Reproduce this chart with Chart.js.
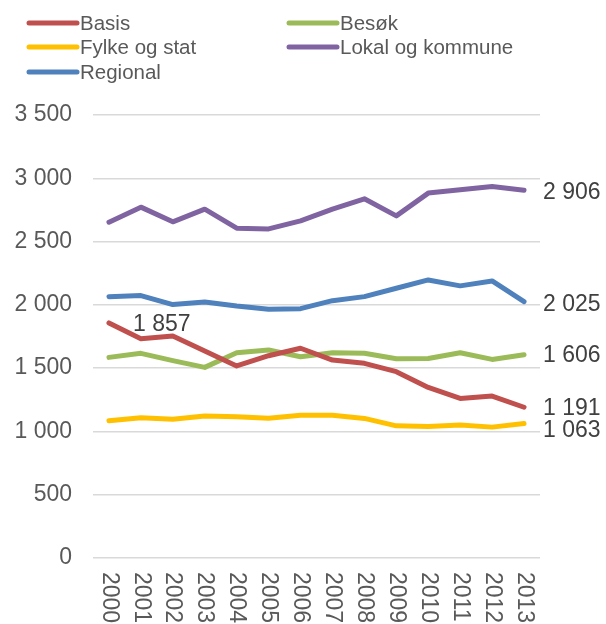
<!DOCTYPE html>
<html>
<head>
<meta charset="utf-8">
<script src="https://cdn.jsdelivr.net/npm/chart.js@4/dist/chart.umd.min.js"></script>
<style>
  html, body { margin: 0; padding: 0; background: #fff; }
  #wrap { width: 606px; height: 624px; }
</style>
</head>
<body>
<div id="wrap"><canvas id="chart" width="606" height="624"></canvas></div>
<script>
// Data
const years = ['2000', '2001', '2002', '2003', '2004', '2005', '2006', '2007', '2008', '2009', '2010', '2011', '2012', '2013'];
const basis = [1857, 1733, 1754, 1635, 1517, 1598, 1657, 1564, 1538, 1472, 1348, 1261, 1279, 1191];
const besok = [1585, 1617, 1559, 1506, 1622, 1643, 1590, 1622, 1617, 1574, 1576, 1622, 1569, 1606];
const fylke = [1084, 1108, 1097, 1121, 1116, 1105, 1127, 1127, 1103, 1044, 1039, 1050, 1034, 1063];
const lokal = [2653, 2772, 2656, 2756, 2606, 2600, 2664, 2756, 2838, 2703, 2883, 2909, 2935, 2906];
const regional = [2065, 2073, 2002, 2023, 1991, 1965, 1970, 2033, 2065, 2131, 2197, 2150, 2189, 2025];
const seriesNames = ['Basis', 'Besøk', 'Fylke og stat', 'Lokal og kommune', 'Regional'];
const seriesColors = ['#C0504D', '#9BBB59', '#FFC000', '#8064A2', '#4F81BD'];

const FONT = '"Liberation Sans", Arial, sans-serif';
const TEXT = '#595959';

function fmt(v) {
  return String(v).replace(/\B(?=(\d{3})+(?!\d))/g, ' ');
}

// legend in two columns, like the original
const legendPlugin = {
  id: 'twoColLegend',
  afterDraw(chart) {
    const ctx = chart.ctx;
    const cols = [29, 289];
    const rows = [23, 47, 72];
    ctx.save();
    ctx.font = '20.5px ' + FONT;
    ctx.textBaseline = 'middle';
    chart.data.datasets.forEach((ds, i) => {
      const x = cols[i % 2];
      const y = rows[Math.floor(i / 2)];
      ctx.strokeStyle = ds.borderColor;
      ctx.lineWidth = 5;
      ctx.lineCap = 'round';
      ctx.beginPath();
      ctx.moveTo(x, y);
      ctx.lineTo(x + 48, y);
      ctx.stroke();
      ctx.fillStyle = TEXT;
      ctx.fillText(ds.label, x + 51, y + 1);
    });
    ctx.restore();
  }
};

// year labels turned to read top-down (Chart.js only rotates the other way)
const yearLabels = {
  id: 'yearLabels',
  afterDraw(chart) {
    const ctx = chart.ctx;
    const xs = chart.scales.x;
    ctx.save();
    ctx.font = '23px ' + FONT;
    ctx.fillStyle = TEXT;
    ctx.textBaseline = 'middle';
    ctx.textAlign = 'left';
    chart.data.labels.forEach((lab, i) => {
      ctx.save();
      ctx.translate(xs.getPixelForTick(i), chart.chartArea.bottom + 14);
      ctx.rotate(Math.PI / 2);
      ctx.fillText(lab, 0, 0);
      ctx.restore();
    });
    ctx.restore();
  }
};

// value labels: last point of every series, and the first Basis point
const valueLabels = {
  id: 'valueLabels',
  afterDatasetsDraw(chart) {
    const ctx = chart.ctx;
    const nudge = [1, 1, 7, 2, 3];
    ctx.save();
    ctx.font = '23px ' + FONT;
    ctx.fillStyle = '#404040';
    ctx.textBaseline = 'middle';
    ctx.textAlign = 'left';
    chart.data.datasets.forEach((ds, i) => {
      const pts = chart.getDatasetMeta(i).data;
      const last = pts[pts.length - 1];
      ctx.fillText(fmt(ds.data[ds.data.length - 1]), last.x + 19, last.y + nudge[i]);
    });
    const first = chart.getDatasetMeta(0).data[0];
    ctx.fillText(fmt(chart.data.datasets[0].data[0]), first.x + 24, first.y + 2);
    ctx.restore();
  }
};

const allSeries = [basis, besok, fylke, lokal, regional];

new Chart(document.getElementById('chart').getContext('2d'), {
  type: 'line',
  data: {
    labels: years,
    datasets: allSeries.map((values, i) => ({
      label: seriesNames[i],
      data: values,
      borderColor: seriesColors[i],
      backgroundColor: seriesColors[i],
      borderWidth: 5,
      pointRadius: 0,
      tension: 0,
      borderJoinStyle: 'round',
      borderCapStyle: 'round'
    }))
  },
  options: {
    responsive: false,
    animation: false,
    layout: { padding: { top: 115, right: 66, left: 0, bottom: 0 } },
    plugins: {
      legend: { display: false },
      tooltip: { enabled: false }
    },
    scales: {
      x: {
        offset: true,
        grid: { display: false, drawTicks: false },
        border: { display: false },
        ticks: { display: false, autoSkip: false },
        afterFit: (scale) => { scale.height = 66; }
      },
      y: {
        min: 0,
        max: 3500,
        grid: { color: '#D9D9D9', lineWidth: 1.5, drawTicks: false },
        border: { display: false },
        ticks: {
          stepSize: 500,
          color: TEXT,
          font: { family: FONT, size: 23 },
          padding: 21,
          callback: (v) => fmt(v)
        },
        afterFit: (scale) => { scale.width = 93; }
      }
    }
  },
  plugins: [legendPlugin, yearLabels, valueLabels]
});
</script>
</body>
</html>
